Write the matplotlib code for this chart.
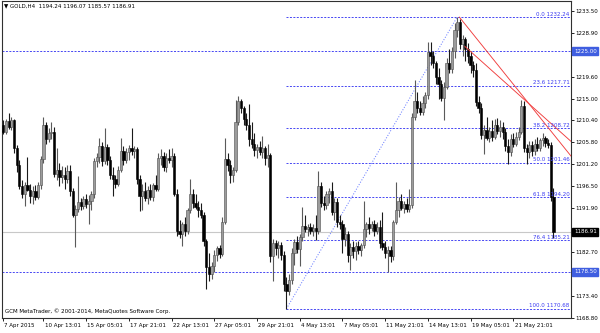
import matplotlib
matplotlib.use("Agg")
import matplotlib.pyplot as plt
from matplotlib import transforms

# ---------------- data (H4 candles) ----------------
opens = [
    1208.5, 1209.5, 1208.0, 1210.2, 1209.0, 1210.4, 1204.5, 1201.0, 1196.5, 1195.0,
    1196.8, 1195.8, 1194.5, 1195.6, 1194.2, 1196.8, 1202.2, 1209.5, 1206.5, 1207.8,
    1208.0, 1199.2, 1200.0, 1198.5, 1199.0, 1198.0, 1199.8, 1195.5, 1190.5, 1191.8,
    1193.2, 1192.4, 1193.8, 1192.8, 1193.5, 1194.8, 1201.8, 1202.8, 1205.0, 1201.8,
    1204.8, 1202.0, 1199.0, 1198.0, 1197.0, 1200.0, 1204.0, 1202.0, 1203.8, 1204.5,
    1204.0, 1204.3, 1198.0, 1194.5, 1195.5, 1194.0, 1195.8, 1194.2, 1196.8, 1196.0,
    1202.5, 1203.0, 1200.5, 1202.5, 1202.0, 1203.0, 1195.0, 1187.0, 1186.5, 1188.5,
    1187.0, 1191.5, 1195.0, 1193.0, 1192.2, 1191.5, 1190.5, 1185.0, 1179.5, 1178.0,
    1179.8, 1182.0, 1183.5, 1182.2, 1189.0, 1202.2, 1201.0, 1199.0, 1200.0, 1210.0,
    1214.5, 1213.0, 1210.8, 1209.5, 1206.5, 1205.5, 1204.2, 1204.8, 1203.8, 1204.5,
    1202.5, 1203.2, 1181.8, 1184.5, 1183.5, 1184.2, 1182.0, 1176.0, 1174.5, 1176.8,
    1182.5, 1184.8, 1183.2, 1185.8, 1188.2, 1187.5, 1188.0, 1187.2, 1187.8, 1187.0,
    1196.5, 1193.0, 1192.5, 1194.8, 1195.5, 1191.2, 1193.2, 1189.0, 1188.5, 1185.5,
    1186.5, 1182.0, 1183.8, 1182.8, 1184.0, 1183.0, 1184.2, 1187.5, 1188.5, 1187.8,
    1188.6, 1187.2, 1188.0, 1184.5, 1183.8, 1182.5, 1183.0, 1181.8, 1189.0, 1191.5,
    1193.5, 1192.0, 1192.8, 1191.8, 1192.5, 1211.2, 1214.5, 1213.0, 1212.2, 1214.0,
    1215.8, 1224.9, 1224.0, 1222.6, 1219.5, 1218.0, 1215.2, 1217.5, 1222.5, 1221.2,
    1225.0, 1229.5, 1231.2, 1226.5, 1227.5, 1225.5, 1224.0, 1222.0, 1221.0, 1214.2,
    1213.0, 1207.4, 1208.5, 1206.8, 1208.2, 1207.0, 1209.5, 1208.2, 1209.0, 1208.0,
    1205.0, 1203.8, 1206.5, 1205.5, 1207.0, 1208.0, 1213.5, 1204.5, 1203.8, 1205.2,
    1204.0, 1205.5, 1204.5, 1206.2, 1206.8, 1205.6, 1205.2, 1194.24,
]
highs = [
    1210.0, 1210.5, 1210.8, 1211.9, 1211.2, 1210.8, 1205.2, 1202.0, 1197.8, 1197.5,
    1202.6, 1197.0, 1196.5, 1196.8, 1197.5, 1203.0, 1211.1, 1210.0, 1208.8, 1210.0,
    1209.0, 1204.5, 1201.5, 1200.8, 1200.5, 1201.0, 1201.0, 1196.2, 1192.5, 1198.7,
    1194.0, 1194.5, 1195.0, 1194.6, 1195.5, 1202.5, 1203.5, 1206.8, 1205.8, 1208.9,
    1205.5, 1203.0, 1200.5, 1199.0, 1200.8, 1206.8, 1205.0, 1204.5, 1205.2, 1208.9,
    1205.0, 1204.8, 1199.0, 1197.0, 1197.5, 1196.5, 1197.0, 1197.2, 1199.0, 1203.5,
    1204.3, 1203.8, 1203.5, 1204.3, 1204.5, 1203.5, 1196.0, 1189.5, 1189.0, 1190.0,
    1192.0, 1198.0, 1196.0, 1195.0, 1193.5, 1193.0, 1191.0, 1185.5, 1182.5, 1180.5,
    1183.0, 1184.0, 1184.2, 1190.0, 1206.8, 1203.5, 1202.0, 1200.5, 1214.8, 1215.5,
    1215.0, 1213.5, 1212.0, 1213.8, 1210.0, 1207.8, 1205.5, 1206.0, 1207.1, 1205.0,
    1205.5, 1203.5, 1185.5, 1185.2, 1185.0, 1184.8, 1182.8, 1177.5, 1178.0, 1183.5,
    1185.5, 1186.0, 1186.5, 1192.1, 1190.5, 1188.5, 1188.8, 1188.5, 1190.5, 1199.7,
    1197.5, 1194.5, 1195.5, 1196.2, 1197.4, 1194.0, 1194.0, 1190.5, 1189.5, 1188.0,
    1187.0, 1184.5, 1185.0, 1184.8, 1185.0, 1184.5, 1193.4, 1189.0, 1190.0, 1189.2,
    1189.5, 1189.0, 1189.5, 1191.0, 1185.0, 1184.0, 1184.0, 1189.5, 1197.4, 1194.2,
    1195.0, 1193.5, 1194.0, 1196.0, 1212.0, 1219.0, 1216.5, 1214.5, 1215.5, 1216.5,
    1227.0, 1227.0, 1225.0, 1223.0, 1221.5, 1219.0, 1218.5, 1223.5, 1225.5, 1226.0,
    1231.0, 1232.24, 1231.8, 1228.5, 1228.0, 1226.8, 1225.0, 1223.0, 1222.5, 1215.5,
    1214.0, 1209.5, 1211.2, 1209.0, 1210.5, 1210.8, 1211.0, 1210.5, 1210.0, 1208.8,
    1206.5, 1207.5, 1207.8, 1208.0, 1209.0, 1214.8, 1214.5, 1205.5, 1206.0, 1206.0,
    1206.5, 1207.0, 1206.8, 1207.8, 1207.2, 1206.5, 1205.8, 1196.07,
]
lows = [
    1207.8, 1207.5, 1207.6, 1208.6, 1208.5, 1203.5, 1199.5, 1196.0, 1194.0, 1192.4,
    1195.5, 1193.0, 1192.8, 1193.6, 1193.8, 1196.0, 1201.5, 1205.5, 1205.8, 1206.5,
    1198.5, 1197.8, 1196.5, 1197.2, 1196.0, 1197.2, 1194.5, 1190.0, 1183.7, 1191.2,
    1191.5, 1191.8, 1192.0, 1188.5, 1191.5, 1194.0, 1200.5, 1201.5, 1200.8, 1201.2,
    1201.0, 1198.0, 1194.5, 1196.2, 1196.5, 1199.5, 1201.0, 1201.5, 1202.0, 1203.2,
    1202.5, 1197.0, 1191.3, 1191.5, 1193.5, 1192.8, 1193.6, 1193.5, 1195.5, 1195.5,
    1201.0, 1199.8, 1199.5, 1201.5, 1200.5, 1194.5, 1186.0, 1185.6, 1184.0, 1186.0,
    1186.5, 1190.8, 1192.0, 1191.8, 1190.0, 1189.8, 1184.0, 1174.9, 1176.5, 1177.0,
    1178.5, 1180.8, 1181.5, 1181.8, 1188.5, 1199.8, 1197.2, 1197.5, 1199.5, 1209.5,
    1212.0, 1209.5, 1208.5, 1205.0, 1204.5, 1203.0, 1202.5, 1203.2, 1202.5, 1201.0,
    1200.5, 1180.5, 1176.5, 1182.0, 1181.5, 1181.0, 1174.5, 1170.68, 1173.5, 1176.0,
    1180.0, 1182.5, 1179.8, 1185.0, 1186.8, 1186.0, 1186.5, 1186.0, 1185.2, 1186.5,
    1192.2, 1191.5, 1191.8, 1193.0, 1190.5, 1189.5, 1188.0, 1187.5, 1182.5, 1184.0,
    1180.5, 1178.8, 1181.5, 1181.0, 1182.2, 1181.8, 1183.5, 1185.8, 1186.5, 1187.0,
    1186.0, 1186.5, 1183.5, 1183.0, 1181.5, 1178.5, 1180.5, 1181.0, 1188.5, 1190.0,
    1191.5, 1190.8, 1191.2, 1191.0, 1192.0, 1210.5, 1212.0, 1211.5, 1211.5, 1213.0,
    1215.0, 1222.0, 1221.5, 1218.0, 1215.0, 1214.5, 1210.6, 1217.0, 1220.5, 1220.5,
    1223.5, 1228.0, 1225.5, 1224.0, 1223.0, 1222.5, 1220.5, 1219.5, 1213.5, 1212.0,
    1206.5, 1203.4, 1206.2, 1205.8, 1206.0, 1206.5, 1207.5, 1207.0, 1206.5, 1204.0,
    1201.2, 1203.0, 1204.8, 1205.0, 1206.2, 1207.5, 1203.7, 1201.2, 1202.5, 1203.0,
    1203.2, 1204.0, 1204.0, 1205.0, 1204.8, 1204.5, 1193.5, 1185.57,
]
closes = [
    1209.5, 1208.0, 1210.2, 1209.0, 1210.4, 1204.5, 1201.0, 1196.5, 1195.0, 1196.8,
    1195.8, 1194.5, 1195.6, 1194.2, 1196.8, 1202.2, 1209.5, 1206.5, 1207.8, 1208.0,
    1199.2, 1200.0, 1198.5, 1199.0, 1198.0, 1199.8, 1195.5, 1190.5, 1191.8, 1193.2,
    1192.4, 1193.8, 1192.8, 1193.5, 1194.8, 1201.8, 1202.8, 1205.0, 1201.8, 1204.8,
    1202.0, 1199.0, 1198.0, 1197.0, 1200.0, 1204.0, 1202.0, 1203.8, 1204.5, 1204.0,
    1204.3, 1198.0, 1194.5, 1195.5, 1194.0, 1195.8, 1194.2, 1196.8, 1196.0, 1202.5,
    1203.0, 1200.5, 1202.5, 1202.0, 1203.0, 1195.0, 1187.0, 1186.5, 1188.5, 1187.0,
    1191.5, 1195.0, 1193.0, 1192.2, 1191.5, 1190.5, 1185.0, 1179.5, 1178.0, 1179.8,
    1182.0, 1183.5, 1182.2, 1189.0, 1202.2, 1201.0, 1199.0, 1200.0, 1210.0, 1214.5,
    1213.0, 1210.8, 1209.5, 1206.5, 1205.5, 1204.2, 1204.8, 1203.8, 1204.5, 1202.5,
    1203.2, 1181.8, 1184.5, 1183.5, 1184.2, 1182.0, 1176.0, 1174.5, 1176.8, 1182.5,
    1184.8, 1183.2, 1185.8, 1188.2, 1187.5, 1188.0, 1187.2, 1187.8, 1187.0, 1196.5,
    1193.0, 1192.5, 1194.8, 1195.5, 1191.2, 1193.2, 1189.0, 1188.5, 1185.5, 1186.5,
    1182.0, 1183.8, 1182.8, 1184.0, 1183.0, 1184.2, 1187.5, 1188.5, 1187.8, 1188.6,
    1187.2, 1188.0, 1184.5, 1183.8, 1182.5, 1183.0, 1181.8, 1189.0, 1191.5, 1193.5,
    1192.0, 1192.8, 1191.8, 1192.5, 1211.2, 1214.5, 1213.0, 1212.2, 1214.0, 1215.8,
    1224.9, 1224.0, 1222.6, 1219.5, 1218.0, 1215.2, 1217.5, 1222.5, 1221.2, 1225.0,
    1229.5, 1231.2, 1226.5, 1227.5, 1225.5, 1224.0, 1222.0, 1221.0, 1214.2, 1213.0,
    1207.4, 1208.5, 1206.8, 1208.2, 1207.0, 1209.5, 1208.2, 1209.0, 1208.0, 1205.0,
    1203.8, 1206.5, 1205.5, 1207.0, 1208.0, 1213.5, 1204.5, 1203.8, 1205.2, 1204.0,
    1205.5, 1204.5, 1206.2, 1206.8, 1205.6, 1205.2, 1194.3, 1186.91,
]

fib_pct = ["0.0", "23.6", "38.2", "50.0", "61.8", "76.4", "100.0"]
fib_levels = [1232.24, 1217.71, 1208.72, 1201.46, 1194.20, 1185.21, 1170.68]
fib_anchor_x = [107, 171]
fib_anchor_y = [1170.68, 1232.24]
hline_levels = [1225.00, 1178.50]
last_price = 1186.91
trend1_x = [171.8, 213.6]
trend1_y = [1232.2, 1202.9]
trend2_x = [173.9, 213.6]
trend2_y = [1226.0, 1206.0]

ytick_vals = [1168.80, 1173.40, 1178.10, 1182.70, 1187.30, 1191.90, 1196.50,
              1201.20, 1205.80, 1210.40, 1215.00, 1219.60, 1224.30, 1228.90, 1233.50]
# scale labels hidden under the highlighted price boxes
hidden_ticks = [1178.10, 1187.30, 1224.30]
xtick_pos = [0.8, 16, 32, 48, 64, 80, 96, 112, 128, 144, 160, 176, 192]
xtick_labels = ["7 Apr 2015", "10 Apr 13:01", "15 Apr 05:01", "17 Apr 21:01",
                "22 Apr 13:01", "27 Apr 05:01", "29 Apr 21:01", "4 May 13:01",
                "7 May 05:01", "11 May 21:01", "14 May 13:01", "19 May 05:01",
                "21 May 21:01"]
header = "\u25BC GOLD,H4  1194.24 1196.07 1185.57 1186.91"
footer = "GCM MetaTrader, \u00A9 2001-2014, MetaQuotes Software Corp."

# ---------------- drawing ----------------
FS = 4.0
plt.rcParams['font.family'] = ['DejaVu Sans']
fig = plt.figure(figsize=(6.0, 3.33), dpi=100)
fig.patch.set_facecolor('white')
ax = fig.add_axes([2 / 600, 15 / 333, 569 / 600, 317 / 333])
ax.set_facecolor('white')

X_LEFT, X_RIGHT = 0.5, 213.6
Y_LOW, Y_HIGH = 1168.75, 1235.6

n = len(closes)
assert len(opens) == n and len(highs) == n and len(lows) == n
idx = list(range(n))

up_i = [i for i in idx if closes[i] >= opens[i]]
dn_i = [i for i in idx if closes[i] < opens[i]]

UP_FACE = '#9c9c9c'
UP_EDGE = '#4e4e4e'
UP_WICK = '#5a5a5a'
DN_COL = '#000000'

ax.vlines(up_i, [lows[i] for i in up_i], [highs[i] for i in up_i],
          color=UP_WICK, lw=0.8, zorder=3)
ax.vlines(dn_i, [lows[i] for i in dn_i], [highs[i] for i in dn_i],
          color='#1a1a1a', lw=0.8, zorder=3)
ax.bar(up_i, [max(closes[i] - opens[i], 0.15) for i in up_i],
       bottom=[opens[i] for i in up_i], width=0.85,
       color=UP_FACE, edgecolor=UP_EDGE, linewidth=0.4, zorder=4)
ax.bar(dn_i, [max(opens[i] - closes[i], 0.15) for i in dn_i],
       bottom=[closes[i] for i in dn_i], width=0.85,
       color=DN_COL, edgecolor=DN_COL, linewidth=0.4, zorder=4)

# current price line
ax.axhline(last_price, color='#c8c8c8', lw=0.8, zorder=1)

FIB_COL = '#3a3af2'
dash = (0, (2.2, 1.6))
for lv in hline_levels:
    ax.axhline(lv, color=FIB_COL, lw=0.65, ls=dash, zorder=2)
ax.hlines(fib_levels, fib_anchor_x[0], X_RIGHT, color=FIB_COL, lw=0.65,
          linestyles=[dash], zorder=2)
ax.plot(fib_anchor_x, fib_anchor_y, color='#6f82ff', lw=0.75,
        ls=(0, (1, 1.6)), zorder=2)

blend = transforms.blended_transform_factory(ax.transAxes, ax.transData)
for pct, lv in zip(fib_pct, fib_levels):
    ax.annotate(f"{pct} {lv:.2f}", xy=(1, lv), xycoords=blend,
                xytext=(-1.0, 0.3), textcoords='offset points',
                ha='right', va='bottom', fontsize=FS, color=FIB_COL, zorder=6)

ax.plot(trend1_x, trend1_y, color='#f03c3c', lw=0.65, zorder=5)
ax.plot(trend2_x, trend2_y, color='#f03c3c', lw=0.65, zorder=5)

ax.set_xlim(X_LEFT, X_RIGHT)
ax.set_ylim(Y_LOW, Y_HIGH)

ax.yaxis.tick_right()
ax.set_yticks(ytick_vals)
ax.set_yticklabels(["" if v in hidden_ticks else f"{v:.2f}" for v in ytick_vals])
ax.tick_params(axis='y', direction='out', length=2.0, width=0.6, pad=1.2,
               labelsize=FS, colors='#000000')
ax.set_xticks(xtick_pos)
ax.set_xticklabels(xtick_labels)
ax.tick_params(axis='x', direction='out', length=2.2, width=0.6, pad=1.4,
               labelsize=FS, colors='#000000')
shift = transforms.ScaledTranslation(1.2 / 100, 0, fig.dpi_scale_trans)
for lab in ax.get_xticklabels():
    lab.set_horizontalalignment('left')
    lab.set_transform(lab.get_transform() + shift)

for sp in ax.spines.values():
    sp.set_color('#303030')
    sp.set_linewidth(0.8)

for lv in hline_levels:
    ax.annotate(f"{lv:.2f}", xy=(1, lv), xycoords=blend, xytext=(2.2, 0),
                textcoords='offset points', ha='left', va='center',
                fontsize=FS, color='white', annotation_clip=False, zorder=10,
                bbox=dict(boxstyle='square,pad=0.3', fc='#3f5ee0', ec='#3f5ee0'))
ax.annotate(f"{last_price:.2f}", xy=(1, last_price), xycoords=blend,
            xytext=(2.2, 0), textcoords='offset points', ha='left', va='center',
            fontsize=FS, color='white', annotation_clip=False, zorder=10,
            bbox=dict(boxstyle='square,pad=0.3', fc='#000000', ec='#000000'))

ax.text(0.004, 0.993, header, transform=ax.transAxes, ha='left', va='top',
        fontsize=FS, color='#000000', zorder=8)
ax.text(0.006, 0.012, footer, transform=ax.transAxes, ha='left', va='bottom',
        fontsize=FS, color='#000000', zorder=8)

fig.savefig('out.png', dpi=100, facecolor='white')
